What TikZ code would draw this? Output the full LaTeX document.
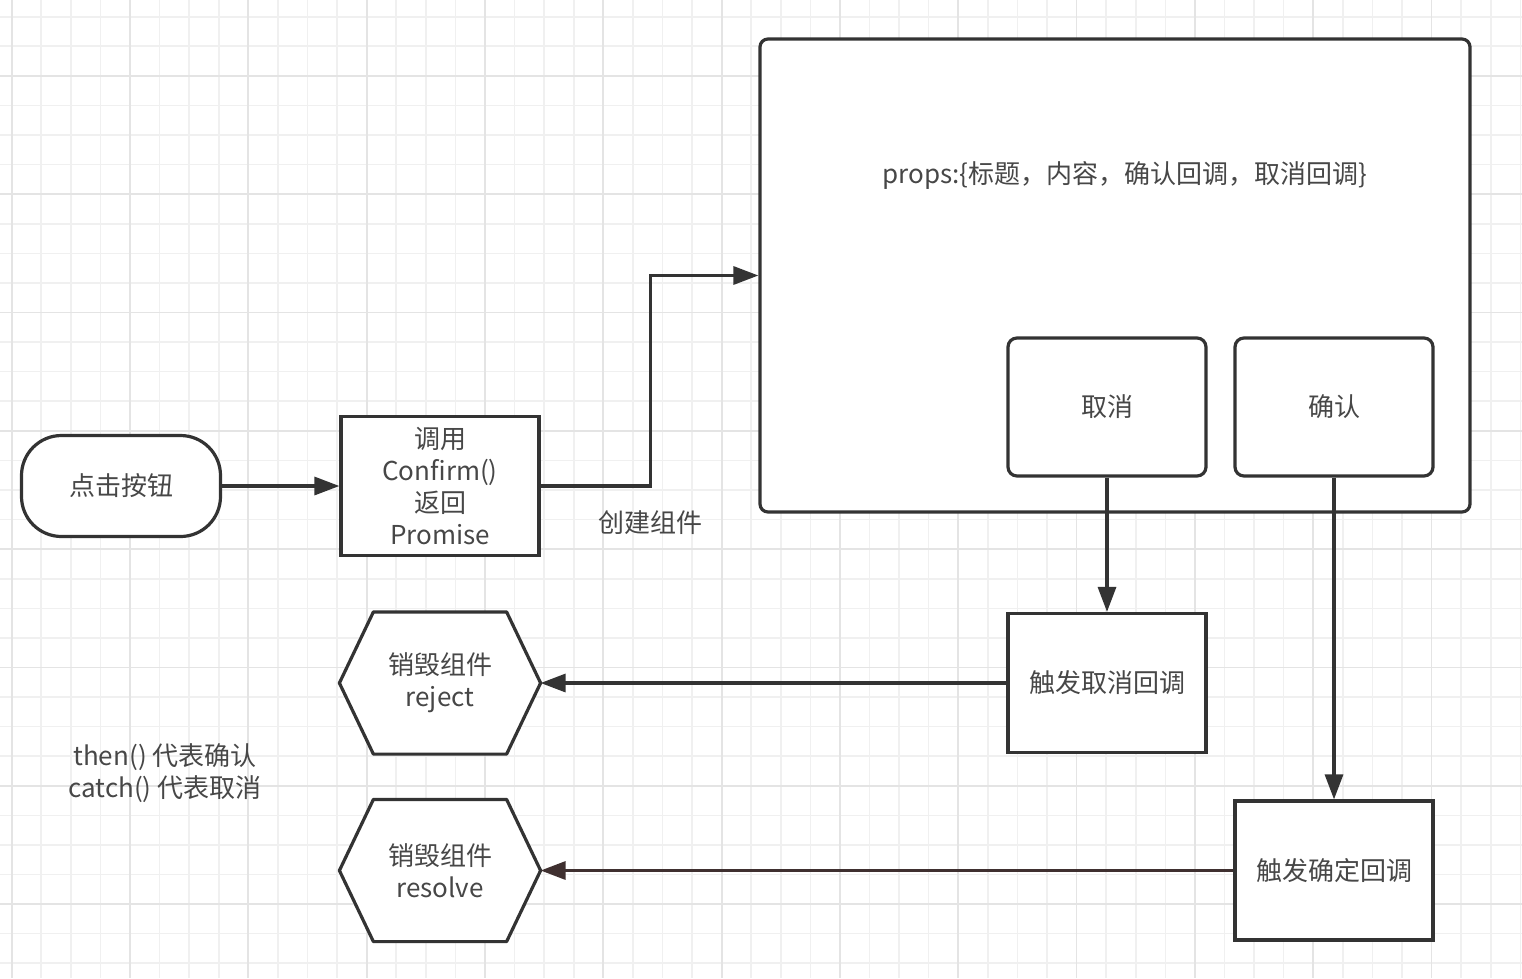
\documentclass[tikz,border=0pt]{standalone}
\usepackage{fontspec}
\setmainfont{Noto Sans CJK SC}
\usetikzlibrary{arrows.meta}
\usetikzlibrary{calc}
\definecolor{gridminor}{HTML}{F0F0F0}
\definecolor{gridmajor}{HTML}{E4E4E4}
\definecolor{ink}{HTML}{333333}
\definecolor{txt}{HTML}{474747}
\definecolor{resolveline}{HTML}{3F3030}

\begin{document}
\begin{tikzpicture}[x=1pt, y=-1pt, >={Triangle[length=25pt, width=18pt]},
base/.style={draw=ink, line width=3.2pt, text=txt, inner sep=0pt, align=center,
  font=\fontsize{26}{32}\selectfont},
terminal/.style={base, minimum width=199pt, minimum height=101pt, rounded corners=40pt},
process/.style={base, minimum width=198pt, minimum height=139pt},
button/.style={base, minimum width=198pt, minimum height=138pt, rounded corners=9pt},
dialogbox/.style={base, minimum width=710pt, minimum height=473pt, rounded corners=8pt},
destroy/.style={base, draw=none, minimum width=198pt, minimum height=139pt},
label/.style={text=txt, inner sep=0pt, align=center, font=\fontsize{26}{32}\selectfont},
flow/.style={->, draw=ink, line width=3.2pt}]


%%%%%% SETTINGS %%%%%%%%%%

\pgfmathtruncatemacro{\gridcols}{51}
\pgfmathtruncatemacro{\gridrows}{32}
\def\gridstep{29.58}

%%%%%% GRID %%%%%%%%%%

\useasboundingbox (0,0) rectangle (1522,978);
\fill[white] (0,0) rectangle (1522,978);

\foreach \k in {0, ..., \gridcols}{\draw[gridminor, line width=1.6pt] ({11.7+\gridstep*\k},0) -- ({11.7+\gridstep*\k},978);}
\foreach \k in {0, ..., \gridrows}{\draw[gridminor, line width=1.6pt] (0,{16.7+\gridstep*\k}) -- (1522,{16.7+\gridstep*\k});}
\foreach \k in {0, 4, ..., 48}{\draw[gridmajor, line width=1.8pt] ({11.7+\gridstep*\k},0) -- ({11.7+\gridstep*\k},978);}
\foreach \k in {2, 6, ..., 30}{\draw[gridmajor, line width=1.8pt] (0,{16.7+\gridstep*\k}) -- (1522,{16.7+\gridstep*\k});}

%%%%%% NODES %%%%%%%%%%

\node[terminal, fill=white] (click) at (121,486) {点击按钮};
\node[process, fill=white] (call) at (440,486) {调用\\Confirm()\\返回\\Promise};
\node[dialogbox, fill=white] (dialog) at (1115,275.5) {};
\node[label] (props) at (1125,175) {props:\{标题，内容，确认回调，取消回调\}};
\node[button, fill=white] (cancel) at (1107,407) {取消};
\node[button, fill=white] (confirm) at (1334,407) {确认};
\node[process, fill=white] (oncancel) at (1107,683) {触发取消回调};
\node[process, fill=white] (onconfirm) at (1334,870.5) {触发确定回调};
\node[destroy] (reject) at (440,683) {};
\node[destroy] (resolve) at (440,870.5) {};

\foreach \h in {reject, resolve}{
\filldraw[fill=white, draw=ink, line width=3.2pt, line join=round] (\h.west) -- ([xshift=34pt]\h.north west) -- ([xshift=-34pt]\h.north east)
  -- (\h.east) -- ([xshift=-34pt]\h.south east) -- ([xshift=34pt]\h.south west) -- cycle;
}
\node[label] at (reject) {销毁组件\\reject};
\node[label] at (resolve) {销毁组件\\resolve};

\node[label] (createlabel) at (650,523) {创建组件};
\node[label] (hint) at (165,773) {then() 代表确认\\catch() 代表取消};

%%%%%% ARROWS %%%%%%%%%%

\draw[flow] (click) -- (call);
\draw[flow] (call.east) -- ++(110,0) |- (dialog.west);
\draw[flow] (cancel) -- (oncancel);
\draw[flow] (confirm) -- (onconfirm);
\draw[flow] (oncancel) -- (reject.east);
\draw[flow, draw=resolveline] (onconfirm) -- (resolve.east);

\end{tikzpicture}
\end{document}
